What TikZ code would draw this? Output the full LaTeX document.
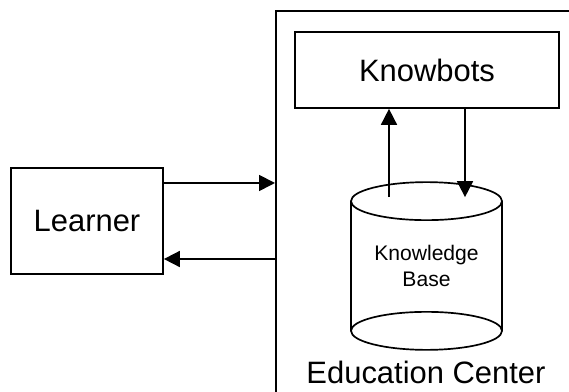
\documentclass[tikz,border=0pt]{standalone}
\usepackage{fontspec}
\setmainfont{Liberation Sans}
\usetikzlibrary{arrows.meta,positioning}

\begin{document}
\begin{tikzpicture}[x=0.025cm, y=-0.025cm, line width=1.2pt,
                    >={Triangle[length=0.4cm, width=0.4cm]},
                    box/.style={draw, rectangle, font=\fontsize{22}{26}\selectfont},
                    baseend/.style={x radius=1.8875cm, y radius=0.475cm},
                    every node/.style={inner sep=0pt}]
    %\draw[help lines] (0,0) grid (569,392);
   \useasboundingbox (0,0) rectangle (569,392);
   \clip (0,0) rectangle (569,392);

   \node[box, minimum width=8.5cm, minimum height=10.5cm, anchor=north west] (edu) at (275,10) {};
   \node[font=\fontsize{22}{26}\selectfont] (edulabel) at (426,372) {Education Center};
   \node[box, minimum width=6.6cm, minimum height=1.9cm] (kb) at (427,70) {Knowbots};
   \node[box, minimum width=3.8cm, minimum height=2.65cm] (learner) at (87,221) {Learner};
   \node[minimum width=3.775cm, minimum height=4.15cm,
         align=center, font=\fontsize{15}{18.5}\selectfont] (base) at (426.5,266) {Knowledge\\Base};

   % cylinder round the base
   \coordinate (topend) at ([yshift=-0.475cm]base.north);
   \coordinate (botend) at ([yshift=0.475cm]base.south);
   \draw (topend) ellipse [baseend];
   \draw (botend) ellipse [baseend];
   \draw ([xshift=-1.8875cm]topend) -- ([xshift=-1.8875cm]botend);
   \draw ([xshift=1.8875cm]topend) -- ([xshift=1.8875cm]botend);

   % Define connections
   \coordinate (lout) at ([yshift=0.95cm]learner.east);
   \coordinate (lin) at ([yshift=-0.95cm]learner.east);
   \coordinate (kbin) at ([xshift=-0.95cm]kb.south);
   \coordinate (kbout) at ([xshift=0.95cm]kb.south);
   \coordinate (basetop) at ([yshift=-0.375cm]base.north);

   \draw[->] (lout) -- (lout -| edu.west);
   \draw[->] (lin -| edu.west) -- (lin);
   \draw[->] (basetop -| kbin) -- (kbin);
   \draw[->] (kbout) -- (basetop -| kbout);

\end{tikzpicture}
\end{document}
